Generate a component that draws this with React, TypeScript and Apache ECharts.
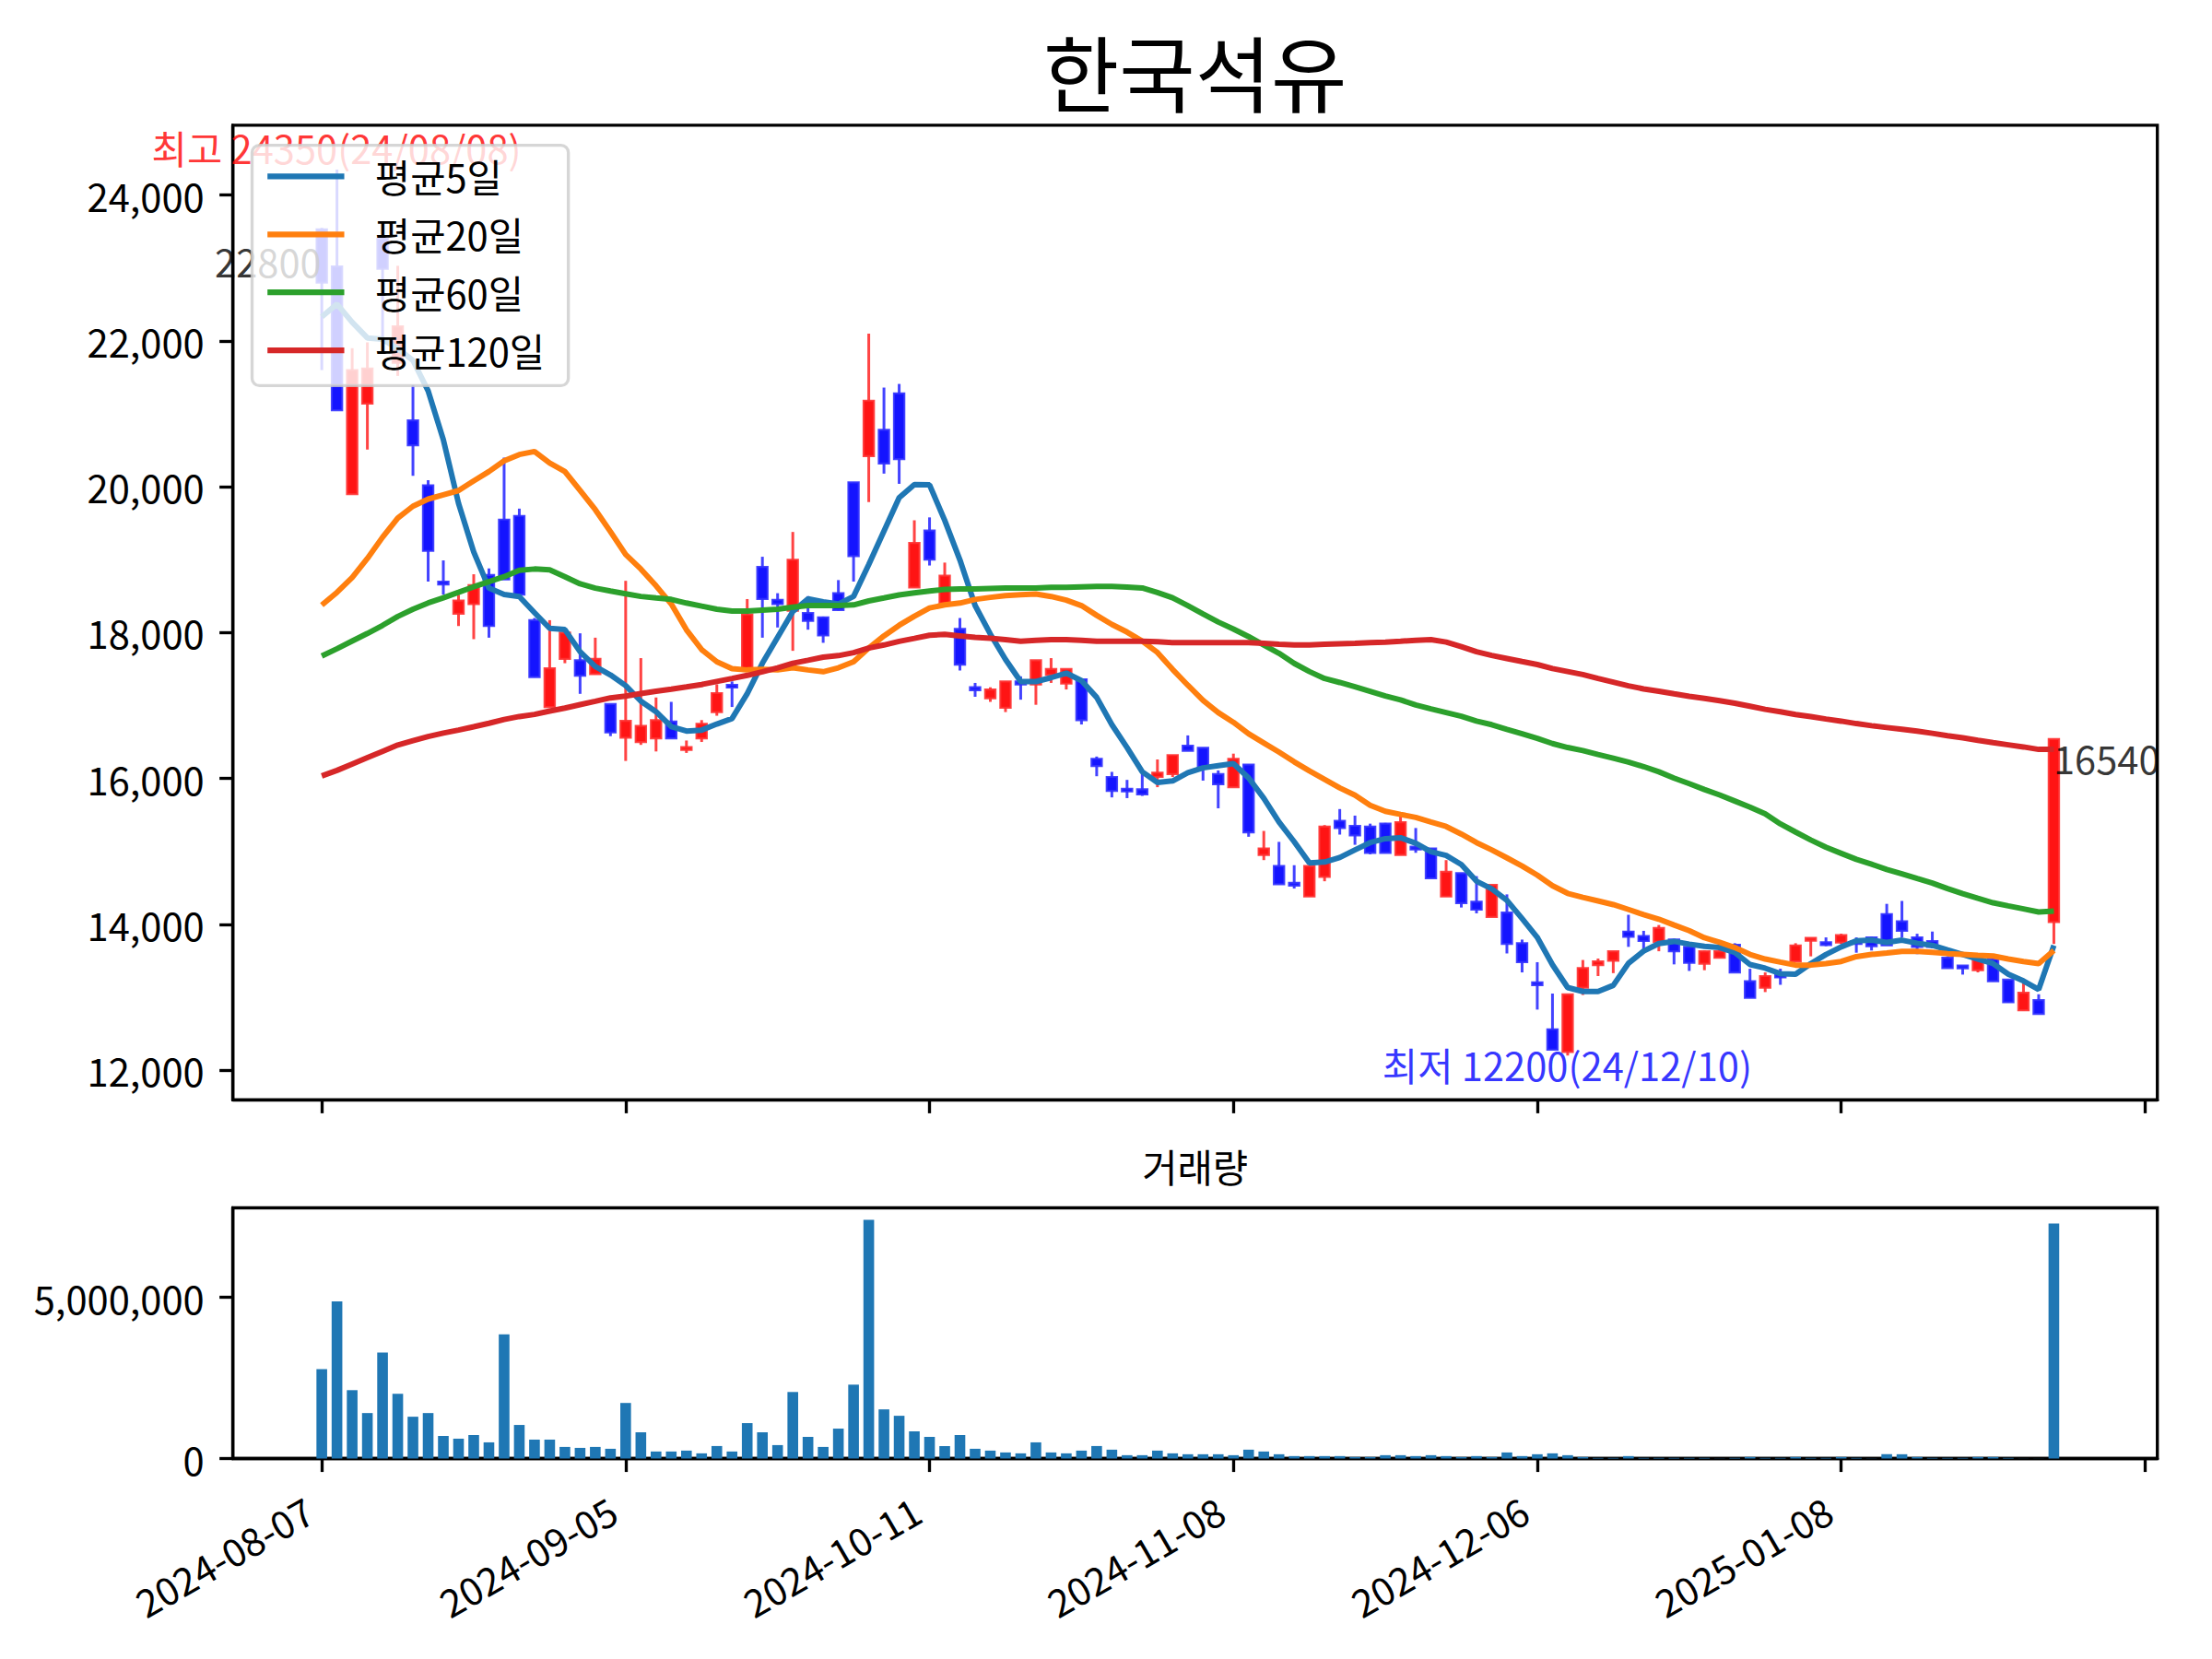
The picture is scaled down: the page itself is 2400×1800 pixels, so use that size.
import React, { useEffect, useRef } from "react";
import * as echarts from "echarts";

const FONT = '"Noto Sans CJK KR", "Noto Sans", sans-serif';
const PT = 300 / 72;
const FS = 10 * PT;

const title = "한국석유";
const volumeTitle = "거래량";
const maNames = ["평균5일", "평균20일", "평균60일", "평균120일"];
const maColors = ["#1f77b4", "#ff7f0e", "#2ca02c", "#d62728"];

const dates = [
  "2024-08-07","2024-08-08","2024-08-09","2024-08-12","2024-08-13","2024-08-14","2024-08-16","2024-08-19","2024-08-20","2024-08-21",
  "2024-08-22","2024-08-23","2024-08-26","2024-08-27","2024-08-28","2024-08-29","2024-08-30","2024-09-02","2024-09-03","2024-09-04",
  "2024-09-05","2024-09-06","2024-09-09","2024-09-10","2024-09-11","2024-09-12","2024-09-13","2024-09-19","2024-09-20","2024-09-23",
  "2024-09-24","2024-09-25","2024-09-26","2024-09-27","2024-09-30","2024-10-02","2024-10-04","2024-10-07","2024-10-08","2024-10-10",
  "2024-10-11","2024-10-14","2024-10-15","2024-10-16","2024-10-17","2024-10-18","2024-10-21","2024-10-22","2024-10-23","2024-10-24",
  "2024-10-25","2024-10-28","2024-10-29","2024-10-30","2024-10-31","2024-11-01","2024-11-04","2024-11-05","2024-11-06","2024-11-07",
  "2024-11-08","2024-11-11","2024-11-12","2024-11-13","2024-11-14","2024-11-15","2024-11-18","2024-11-19","2024-11-20","2024-11-21",
  "2024-11-22","2024-11-25","2024-11-26","2024-11-27","2024-11-28","2024-11-29","2024-12-02","2024-12-03","2024-12-04","2024-12-05",
  "2024-12-06","2024-12-09","2024-12-10","2024-12-11","2024-12-12","2024-12-13","2024-12-16","2024-12-17","2024-12-18","2024-12-19",
  "2024-12-20","2024-12-23","2024-12-24","2024-12-26","2024-12-27","2024-12-30","2025-01-02","2025-01-03","2025-01-06","2025-01-07",
  "2025-01-08","2025-01-09","2025-01-10","2025-01-13","2025-01-14","2025-01-15","2025-01-16","2025-01-17","2025-01-20","2025-01-21",
  "2025-01-22","2025-01-23","2025-01-24","2025-01-31","2025-02-03",
];

const opens = [
  23530, 23020, 19900, 21140, 23400, 21700, 20910, 20020, 18700, 18260,
  18390, 18790, 19550, 19600, 18170, 16980, 17640, 17620, 17430, 17020,
  16560, 16500, 16550, 16780, 16400, 16550, 16910, 17280, 17480, 18900,
  18450, 18300, 18270, 18210, 18540, 20060, 20420, 20780, 21280, 18620,
  19400, 18400, 18050, 17250, 17100, 16970, 17330, 17290, 17420, 17300,
  17360, 16270, 16020, 15850, 15850, 16020, 16060, 16450, 16420, 16060,
  15880, 16190, 14950, 14800, 14560, 14380, 14650, 15420, 15350, 15340,
  15380, 14950, 15060, 15040, 14380, 14700, 14310, 14100, 14160, 13740,
  13200, 12560, 12250, 13130, 13440, 13500, 13900, 13840, 13760, 13790,
  13690, 13460, 13540, 13720, 13220, 13130, 13300, 13490, 13790, 13740,
  13750, 13770, 13820, 14140, 14040, 13820, 13770, 13540, 13420, 13370,
  13520, 13240, 12820, 12960, 14030,
];

const closes = [
  22800, 21050, 21600, 21620, 22990, 22200, 20570, 19120, 18660, 18440,
  18650, 18090, 18730, 18520, 17390, 17510, 18000, 17410, 17640, 16630,
  16790, 16720, 16800, 16550, 16420, 16750, 17170, 17250, 18250, 18460,
  18390, 19000, 18160, 17960, 18310, 19050, 21180, 20320, 20380, 19230,
  19000, 18780, 17560, 17210, 17220, 17330, 17290, 17620, 17500, 17500,
  16800, 16170, 15830, 15830, 15780, 16080, 16320, 16380, 16150, 15920,
  16270, 15260, 15040, 14550, 14540, 14800, 15340, 15320, 15220, 14980,
  14980, 15400, 15030, 14630, 14720, 14290, 14200, 14540, 13730, 13480,
  13170, 12280, 13040, 13400, 13490, 13630, 13830, 13770, 13950, 13630,
  13470, 13630, 13630, 13340, 12990, 13290, 13280, 13710, 13800, 13730,
  13850, 13730, 13700, 13710, 13910, 13690, 13690, 13400, 13410, 13520,
  13220, 12930, 13060, 12770, 16540,
];

const lows = [
  21600, 21050, 19900, 20510, 22010, 21520, 20150, 18700, 18520, 18090,
  17910, 17930, 18730, 18520, 17390, 16980, 17580, 17160, 17430, 16580,
  16240, 16460, 16370, 16550, 16350, 16500, 16860, 16980, 17480, 17930,
  18070, 17750, 18040, 17860, 18300, 18700, 19790, 20180, 20040, 18620,
  18920, 18400, 17480, 17120, 17050, 16910, 17080, 17010, 17310, 17220,
  16740, 16030, 15740, 15730, 15760, 15880, 16020, 16380, 15970, 15590,
  15880, 15200, 14880, 14550, 14490, 14380, 14590, 15230, 15090, 14960,
  14980, 14950, 14980, 14630, 14380, 14230, 14150, 14100, 13600, 13340,
  12830, 12280, 12200, 13030, 13290, 13330, 13690, 13660, 13630, 13450,
  13360, 13370, 13540, 13340, 12990, 13070, 13170, 13490, 13560, 13700,
  13730, 13610, 13640, 13710, 13820, 13590, 13670, 13400, 13310, 13340,
  13220, 12930, 12820, 12770, 13730,
];

const highs = [
  23550, 24350, 21900, 21980, 23420, 23030, 21400, 20090, 18990, 18520,
  18800, 18880, 20400, 19700, 18200, 18170, 18030, 17990, 17930, 17020,
  18710, 17650, 17110, 17050, 16520, 16800, 17290, 17330, 18460, 19040,
  18540, 19380, 18500, 18220, 18720, 20060, 22100, 21360, 21410, 19540,
  19580, 18960, 18200, 17310, 17250, 17330, 17400, 17620, 17650, 17500,
  17360, 16300, 16090, 15980, 16070, 16260, 16320, 16590, 16420, 16110,
  16340, 16190, 15280, 15130, 14810, 14800, 15360, 15580, 15490, 15380,
  15390, 15540, 15320, 15040, 14880, 14700, 14660, 14540, 14410, 13790,
  13480, 13050, 13040, 13510, 13530, 13630, 14130, 13910, 13990, 13800,
  13690, 13640, 13750, 13740, 13390, 13340, 13390, 13740, 13800, 13820,
  13870, 13820, 13830, 14280, 14320, 13870, 13900, 13560, 13420, 13530,
  13540, 13240, 13190, 13040, 16540,
];

const volumes = [
  2775000, 4877000, 2121000, 1411000, 3286000, 2008000, 1297000, 1411000, 701000, 616000,
  729000, 502000, 3854000, 1042000, 587000, 587000, 360000, 331000, 360000, 303000,
  1724000, 814000, 218000, 218000, 246000, 161000, 388000, 218000, 1099000, 814000,
  417000, 2064000, 672000, 360000, 928000, 2292000, 7406000, 1525000, 1326000, 843000,
  672000, 388000, 729000, 303000, 246000, 189000, 161000, 502000, 189000, 161000,
  246000, 388000, 275000, 104000, 104000, 246000, 161000, 133000, 133000, 133000,
  104000, 275000, 218000, 133000, 76000, 76000, 76000, 76000, 47000, 47000,
  104000, 104000, 76000, 104000, 76000, 47000, 76000, 47000, 189000, 76000,
  133000, 161000, 104000, 47000, 19000, 19000, 76000, 19000, 19000, 19000,
  19000, 19000, 5000, 19000, 47000, 19000, 19000, 47000, 19000, 19000,
  47000, 19000, 5000, 133000, 133000, 47000, 19000, 19000, 19000, 47000,
  47000, 19000, 3000, 3000, 7290000,
];

const ma5 = [
  22331, 22506, 22256, 22041, 22023, 21895, 21733, 21314, 20645, 19773,
  19105, 18610, 18523, 18494, 18273, 18058, 18041, 17738, 17535, 17419,
  17273, 17060, 16915, 16710, 16650, 16663, 16746, 16821, 17163, 17580,
  17934, 18288, 18463, 18421, 18392, 18496, 18934, 19392, 19851, 20030,
  20026, 19538, 18996, 18371, 17980, 17632, 17328, 17328, 17382, 17445,
  17341, 17112, 16737, 16424, 16091, 15945, 15966, 16078, 16145, 16174,
  16203, 16007, 15728, 15403, 15132, 14841, 14853, 14915, 15020, 15120,
  15174, 15187, 15112, 14995, 14945, 14820, 14591, 14486, 14328, 14078,
  13820, 13445, 13132, 13078, 13078, 13162, 13466, 13632, 13736, 13765,
  13728, 13698, 13681, 13615, 13448, 13398, 13323, 13315, 13461, 13586,
  13690, 13773, 13782, 13752, 13782, 13740, 13711, 13648, 13586, 13523,
  13461, 13315, 13223, 13106, 13710,
];

const ma20 = [
  18378, 18552, 18756, 19017, 19308, 19570, 19733, 19831, 19890, 19948,
  20081, 20209, 20355, 20442, 20483, 20326, 20209, 19948, 19686, 19384,
  19070, 18871, 18642, 18392, 18038, 17767, 17600, 17505, 17488, 17496,
  17488, 17517, 17488, 17463, 17517, 17600, 17788, 17955, 18100, 18225,
  18338, 18380, 18405, 18455, 18483, 18507, 18520, 18528, 18495, 18445,
  18370, 18237, 18112, 18007, 17882, 17728, 17495, 17278, 17070, 16903,
  16770, 16612, 16487, 16362, 16228, 16103, 15987, 15870, 15770, 15632,
  15549, 15507, 15466, 15403, 15341, 15237, 15120, 15020, 14911, 14799,
  14674, 14528, 14424, 14370, 14320, 14270, 14203, 14132, 14070, 13990,
  13912, 13815, 13752, 13681, 13586, 13523, 13481, 13440, 13440, 13461,
  13490, 13556, 13586, 13606, 13627, 13627, 13615, 13598, 13586, 13573,
  13565, 13523, 13490, 13461, 13640,
];

const ma60 = [
  17680, 17779, 17884, 17988, 18099, 18221, 18320, 18407, 18477, 18552,
  18628, 18698, 18767, 18855, 18872, 18860, 18767, 18669, 18610, 18570,
  18533, 18496, 18475, 18455, 18405, 18363, 18321, 18296, 18296, 18309,
  18321, 18350, 18371, 18371, 18371, 18380, 18434, 18475, 18517, 18546,
  18571, 18592, 18600, 18600, 18606, 18612, 18612, 18612, 18620, 18620,
  18628, 18632, 18632, 18624, 18612, 18549, 18478, 18370, 18257, 18145,
  18049, 17945, 17828, 17716, 17578, 17466, 17370, 17316, 17257, 17195,
  17132, 17078, 17007, 16953, 16903, 16853, 16787, 16737, 16674, 16612,
  16549, 16478, 16424, 16382, 16328, 16278, 16224, 16162, 16091, 16005,
  15928, 15848, 15773, 15690, 15607, 15515, 15377, 15265, 15156, 15056,
  14973, 14890, 14823, 14752, 14690, 14627, 14565, 14490, 14419, 14356,
  14294, 14252, 14211, 14169, 14181,
];

const ma120 = [
  16035, 16110, 16198, 16285, 16372, 16459, 16517, 16575, 16622, 16663,
  16709, 16756, 16808, 16849, 16878, 16924, 16965, 17012, 17058, 17105,
  17130, 17163, 17196, 17225, 17255, 17288, 17330, 17371, 17413, 17463,
  17517, 17580, 17621, 17663, 17684, 17725, 17788, 17830, 17880, 17921,
  17963, 17975, 17955, 17934, 17922, 17903, 17882, 17895, 17903, 17903,
  17895, 17882, 17882, 17882, 17882, 17874, 17862, 17862, 17862, 17862,
  17862, 17862, 17853, 17841, 17832, 17832, 17841, 17847, 17853, 17862,
  17870, 17882, 17895, 17903, 17870, 17807, 17737, 17687, 17645, 17603,
  17562, 17507, 17466, 17424, 17370, 17320, 17270, 17228, 17195, 17160,
  17126, 17098, 17065, 17032, 16990, 16948, 16915, 16877, 16848, 16815,
  16786, 16752, 16723, 16698, 16673, 16648, 16619, 16586, 16557, 16523,
  16490, 16461, 16432, 16398, 16398,
];

const priceTicks = [12000, 14000, 16000, 18000, 20000, 22000, 24000];
const volumeTicks = [0, 5000000];
const xTickIdx = [0, 20, 40, 60, 80, 100, 120];
const xLabelIdx = [0, 20, 40, 60, 80, 100];

// layout (px in a 2400x1800 canvas)
const LEFT = 252.7;
const WIDTH = 2088;
const MAIN_TOP = 135.9;
const MAIN_H = 1057.4;
const VOL_TOP = 1310.5;
const VOL_H = 272;
const X_MIN = -5.85;
const X_MAX = 120.81;

const fmt = (v: number) => Math.round(v).toLocaleString("en-US");
const shortDate = (d: string) => d.slice(2).replace(/-/g, "/");

export default function App() {
  const ref = useRef<HTMLDivElement>(null);

  useEffect(() => {
    if (!ref.current) return;
    const chart = echarts.init(ref.current, null, { renderer: "svg" });

    const maxHigh = Math.max(...highs);
    const minLow = Math.min(...lows);
    const hiIdx = highs.indexOf(maxHigh);
    const loIdx = lows.indexOf(minLow);
    const span = maxHigh - minLow;
    const yMin = minLow - 0.05 * span;
    const yMax = maxHigh + 0.05 * span;
    const volMax = Math.max(...volumes) * 1.05;
    const last = closes.length - 1;

    const candleRows = opens.map((o, i) => [i, o, closes[i], lows[i], highs[i]]);

    const lineStyle = { color: "#000", width: 0.8 * PT };
    const tickStyle = { color: "#000", width: 0.8 * PT };
    const labelBase = { fontSize: FS, fontFamily: FONT, color: "#000" };

    const xAxisCommon = {
      type: "value",
      min: X_MIN,
      max: X_MAX,
      splitLine: { show: false },
      axisLine: { show: true, onZero: false, lineStyle },
      axisTick: { show: true, customValues: xTickIdx, length: 3.5 * PT, lineStyle: tickStyle },
    };

    const option: any = {
      animation: false,
      backgroundColor: "#fff",
      textStyle: { fontFamily: FONT },
      grid: [
        {
          left: LEFT, top: MAIN_TOP, width: WIDTH, height: MAIN_H,
          show: true, borderColor: "#000", borderWidth: 0.8 * PT, backgroundColor: "transparent",
          containLabel: false, outerBoundsMode: "none",
        },
        {
          left: LEFT, top: VOL_TOP, width: WIDTH, height: VOL_H,
          show: true, borderColor: "#000", borderWidth: 0.8 * PT, backgroundColor: "transparent",
          containLabel: false, outerBoundsMode: "none",
        },
      ],
      xAxis: [
        { ...xAxisCommon, gridIndex: 0, axisLabel: { show: false } },
        {
          ...xAxisCommon,
          gridIndex: 1,
          axisLabel: {
            show: true,
            customValues: xLabelIdx,
            formatter: (v: number) => dates[Math.round(v)] ?? "",
            rotate: 30,
            margin: 44,
            padding: [0, 16, 0, 0],
            ...labelBase,
          },
        },
      ],
      yAxis: [
        {
          type: "value", gridIndex: 0, min: yMin, max: yMax, scale: true,
          splitLine: { show: false },
          axisLine: { show: true, onZero: false, lineStyle },
          axisTick: { show: true, customValues: priceTicks, length: 3.5 * PT, lineStyle: tickStyle },
          axisLabel: { show: true, customValues: priceTicks, formatter: fmt, margin: 31, ...labelBase },
        },
        {
          type: "value", gridIndex: 1, min: 0, max: volMax,
          splitLine: { show: false },
          axisLine: { show: true, onZero: false, lineStyle },
          axisTick: { show: true, customValues: volumeTicks, length: 3.5 * PT, lineStyle: tickStyle },
          axisLabel: { show: true, customValues: volumeTicks, formatter: fmt, margin: 31, ...labelBase },
        },
      ],
      legend: {
        data: maNames,
        orient: "vertical",
        left: 273.5,
        top: 157.6,
        icon: "rect",
        itemWidth: 2 * FS,
        itemHeight: 1.5 * PT,
        itemGap: 20.2,
        padding: [12.4, 25.5, 17, 16.7],
        selectedMode: false,
        backgroundColor: "rgba(255,255,255,0.8)",
        borderColor: "rgba(204,204,204,0.8)",
        borderWidth: 0.8 * PT,
        borderRadius: 8,
        textStyle: { fontSize: FS, fontFamily: FONT, color: "#000", lineHeight: 42.7, padding: [0, 0, 0, 28.3] },
        z: 20,
      },
      graphic: [
        {
          type: "text", x: LEFT + WIDTH / 2, y: MAIN_TOP - 6 * PT + 0.12 * 20 * PT, z: 30,
          style: { text: title, fontSize: 21.5 * PT, fontFamily: FONT, fill: "#000", textAlign: "center", textVerticalAlign: "bottom" },
        },
        {
          type: "text", x: LEFT + WIDTH / 2, y: VOL_TOP - 6 * PT + 0.12 * FS - 4.5, z: 30,
          style: { text: volumeTitle, fontSize: FS, fontFamily: FONT, fill: "#000", textAlign: "center", textVerticalAlign: "bottom" },
        },
      ],
      series: [
        {
          type: "custom",
          name: "candle",
          xAxisIndex: 0,
          yAxisIndex: 0,
          z: 2,
          clip: false,
          data: candleRows,
          encode: { x: 0, y: [1, 2, 3, 4] },
          renderItem: (params: any, api: any) => {
            const i = api.value(0);
            const o = api.value(1);
            const c = api.value(2);
            const l = api.value(3);
            const h = api.value(4);
            const pO = api.coord([i, o]);
            const pC = api.coord([i, c]);
            const pL = api.coord([i, l]);
            const pH = api.coord([i, h]);
            const step = api.size([1, 0])[0];
            const bw = step * 0.68;
            const up = c >= o;
            const fill = up ? "#ff1414" : "#1414ff";
            const edge = up ? "rgba(255,50,50,0.9)" : "rgba(50,50,255,0.9)";
            const wick = up ? "rgba(255,20,20,0.8)" : "rgba(20,20,255,0.8)";
            const top = Math.min(pO[1], pC[1]);
            const bot = Math.max(pO[1], pC[1]);
            const hgt = Math.max(bot - top, 3);
            return {
              type: "group",
              children: [
                { type: "line", shape: { x1: pH[0], y1: pH[1], x2: pL[0], y2: pL[1] }, style: { stroke: wick, lineWidth: 3 } },
                { type: "rect", shape: { x: pO[0] - bw / 2, y: top - (hgt - (bot - top)) / 2, width: bw, height: hgt }, style: { fill, stroke: edge, lineWidth: 2.2 } },
              ],
            };
          },
        },
        ...[ma5, ma20, ma60, ma120].map((arr, k) => ({
          type: "line",
          name: maNames[k],
          xAxisIndex: 0,
          yAxisIndex: 0,
          z: 3,
          data: arr.map((v, i) => [i, v]),
          symbol: "none",
          showSymbol: false,
          lineStyle: { width: 6, color: maColors[k] },
          itemStyle: { color: maColors[k] },
          silent: true,
        })),
        {
          type: "scatter",
          name: "annotations",
          xAxisIndex: 0,
          yAxisIndex: 0,
          z: 4,
          symbolSize: 1,
          silent: true,
          itemStyle: { color: "rgba(0,0,0,0)" },
          label: { show: true, formatter: (p: any) => p.name, fontSize: FS, fontFamily: FONT },
          data: [
            {
              name: `최고 ${maxHigh}(${shortDate(dates[hiIdx])})`,
              value: [hiIdx, maxHigh],
              label: { position: [0, 0], align: "center", verticalAlign: "bottom", offset: [0, -3], color: "#ff0000" },
            },
            {
              name: `최저 ${minLow}(${shortDate(dates[loIdx])})`,
              value: [loIdx, minLow],
              label: { position: [0, 0], align: "center", verticalAlign: "top", offset: [0, -11], color: "#0000ff" },
            },
            {
              name: `${closes[0]}`,
              value: [0, closes[0]],
              label: { position: [0, 0], align: "right", verticalAlign: "bottom", offset: [0, -2], color: "#000" },
            },
            {
              name: `${closes[last]}`,
              value: [last, closes[last]],
              label: { position: [0, 0], align: "left", verticalAlign: "top", color: "#000" },
            },
          ],
        },
        {
          type: "bar",
          name: "volume",
          xAxisIndex: 1,
          yAxisIndex: 1,
          barWidth: 11.6,
          data: volumes.map((v, i) => [i, v]),
          itemStyle: { color: "#1f77b4" },
          silent: true,
        },
      ],
    };

    chart.setOption(option);
    return () => chart.dispose();
  }, []);

  return (
    <div
      ref={ref}
      style={{ position: "absolute", left: 0, top: 0, width: 2400, height: 1800, background: "#fff" }}
    />
  );
}
